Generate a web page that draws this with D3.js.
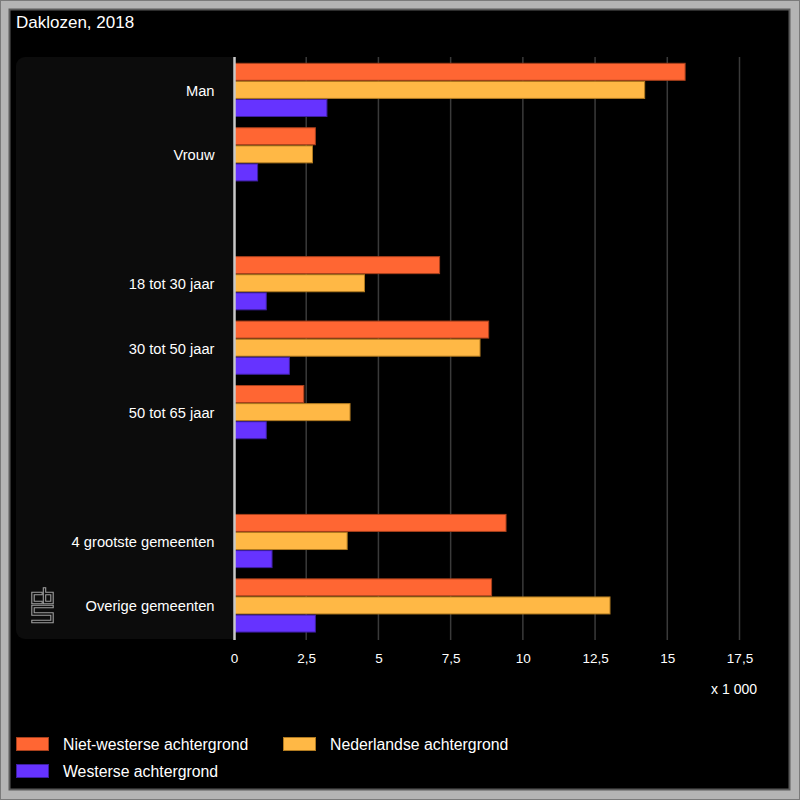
<!DOCTYPE html>
<html>
<head>
<meta charset="utf-8">
<script src="https://cdn.jsdelivr.net/npm/d3@7"></script>
<style>
html,body{margin:0;padding:0;background:#000;}
svg{display:block;font-family:"Liberation Sans",Arial,sans-serif;}
</style>
</head>
<body>
<svg id="chart" width="800" height="800"></svg>
<script>
const title = "Daklozen, 2018";
const categories = ["Man","Vrouw","","18 tot 30 jaar","30 tot 50 jaar","50 tot 65 jaar"," ","4 grootste gemeenten","Overige gemeenten"];
const seriesNames = ["Niet-westerse achtergrond","Nederlandse achtergrond","Westerse achtergrond"];
const nietWesters = [15.6, 2.8, null, 7.1, 8.8, 2.4, null, 9.4, 8.9];
const nederlands  = [14.2, 2.7, null, 4.5, 8.5, 4.0, null, 3.9, 13.0];
const westers     = [3.2, 0.8, null, 1.1, 1.9, 1.1, null, 1.3, 2.8];
const xTicks = [0, 2.5, 5, 7.5, 10, 12.5, 15, 17.5];
const unitLabel = "x 1 000";
const colors = ["#ff6633", "#ffb845", "#6633ff"];
const strokes = ["#a8401c", "#b07a20", "#3d1fa0"];

const values = [nietWesters, nederlands, westers];
const svg = d3.select("#chart");

// frame
svg.append("rect").attr("x",0).attr("y",0).attr("width",800).attr("height",800).attr("fill","#7a7a7a");
svg.append("rect").attr("x",1).attr("y",1).attr("width",798).attr("height",798).attr("fill","#b4b4b4");
svg.append("rect").attr("x",9.5).attr("y",9.5).attr("width",780).attr("height",780).attr("fill","#000").attr("stroke","#5a5a5a").attr("stroke-width",2);

svg.append("text").attr("x",16).attr("y",28).attr("fill","#fff").attr("font-size",17).text(title);

const x = d3.scaleLinear().domain([0, 17.5]).range([234, 739.5]);
const y = d3.scaleBand().domain(categories).range([58, 638]).paddingInner(0).paddingOuter(0);
const ySub = d3.scaleBand().domain(seriesNames).range([5.3, 58.5]).paddingInner(0.06);

// label panel
svg.append("rect").attr("x",16).attr("y",57).attr("width",226).attr("height",582).attr("rx",9).attr("fill","#0c0c0c");
svg.append("rect").attr("x",234).attr("y",57).attr("width",10).attr("height",582).attr("fill","#000");

// grid
svg.append("g").selectAll("line").data(xTicks.filter(d=>d>0)).join("line")
  .attr("x1",d=>x(d)).attr("x2",d=>x(d)).attr("y1",57).attr("y2",640)
  .attr("stroke","#3a3a3a").attr("stroke-width",1.5);

// bars
const groups = svg.append("g").selectAll("g").data(categories).join("g")
  .attr("transform",d=>`translate(0,${y(d)})`);
seriesNames.forEach((s,si)=>{
  groups.filter((d,i)=>values[si][i]!=null).append("rect")
    .attr("x",x(0)+0.5)
    .attr("y",ySub(s))
    .attr("height",ySub.bandwidth())
    .attr("width",(d)=>x(values[si][categories.indexOf(d)])-x(0))
    .attr("fill",colors[si]).attr("stroke",strokes[si]).attr("stroke-width",1);
});

// axis line
svg.append("line").attr("x1",234.5).attr("x2",234.5).attr("y1",57).attr("y2",640).attr("stroke","#c8c8c8").attr("stroke-width",2.5);

// category labels
svg.append("g").selectAll("text").data(categories.filter(d=>d.trim()!=="")).join("text")
  .attr("x",214.5).attr("y",d=>y(d)+y.bandwidth()/2+0.5).attr("dy","0.35em")
  .attr("text-anchor","end").attr("fill","#fff").attr("font-size",14.7).text(d=>d);

// x axis
const xAxis = d3.axisBottom(x).tickValues(xTicks).tickSize(0).tickFormat(d=>d3.format("")(d).replace(".",","));
const ax = svg.append("g").attr("transform","translate(0,650)").call(xAxis);
ax.select(".domain").remove();
ax.selectAll("text").attr("fill","#fff").attr("font-size",13.5).attr("font-family","Liberation Sans, Arial, sans-serif");

svg.append("text").attr("x",757).attr("y",694).attr("text-anchor","end").attr("fill","#fff").attr("font-size",14).text(unitLabel);

// legend
const legendPos = [[16,737],[283,737],[16,764]];
seriesNames.forEach((s,i)=>{
  const [lx,ly] = legendPos[i];
  svg.append("rect").attr("x",lx+0.5).attr("y",ly+0.5).attr("width",32).attr("height",13).attr("fill",colors[i]).attr("stroke",strokes[i]).attr("stroke-width",1);
  svg.append("text").attr("x",lx+47).attr("y",ly+7).attr("dy","0.35em").attr("fill","#fff").attr("font-size",15.8).text(s);
});

// cbs logo
const logo = svg.append("g").attr("fill","none").attr("stroke-linejoin","miter").attr("stroke-linecap","square");
const lp = [
  "M41,593.5 H33 V602.5 H41",
  "M44.5,589 V602.5 H52 V593.5 H44.5",
  "M52,606.5 H33 V614 H52 V621.5 H33"
];
lp.forEach(p=>{
  logo.append("path").attr("d",p).attr("stroke","#a0a0a0").attr("stroke-width",3.5);
  logo.append("path").attr("d",p).attr("stroke","#0c0c0c").attr("stroke-width",1.3);
});
</script>
</body>
</html>
